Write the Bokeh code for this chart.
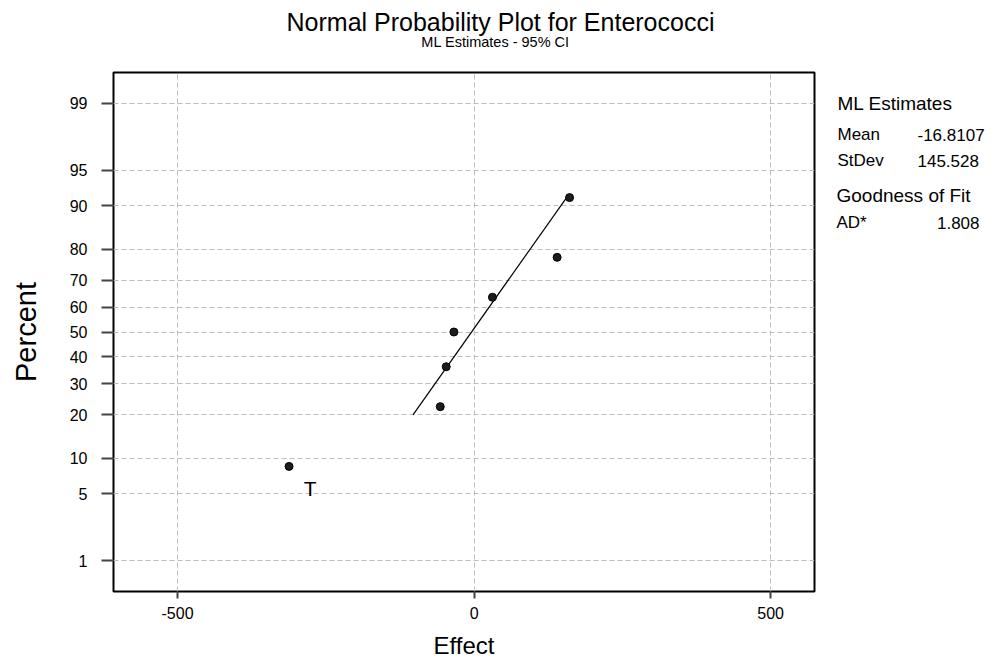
from statistics import NormalDist
from bokeh.plotting import figure
from bokeh.layouts import column, row
from bokeh.models import FixedTicker, Label, Range1d, ColumnDataSource
from bokeh.core.properties import value
from bokeh.embed import file_html
from bokeh.resources import INLINE

# ---- data ----
effects = [-312, -57, -47, -34, 31, 140, 161]
percents = [8.6, 22.4, 36.2, 50.0, 63.8, 77.6, 91.4]
point_labels = ["T", "", "", "", "", "", ""]
fit_effect = [-103, 156]
fit_percent = [20.0, 91.4]
y_tick_percents = [1, 5, 10, 20, 30, 40, 50, 60, 70, 80, 90, 95, 99]
x_ticks = [-500, 0, 500]
x_tick_labels = ["-500", "0", "500"]
title_text = "Normal Probability Plot for Enterococci"
subtitle_text = "ML Estimates - 95% CI"
stats_head = "ML Estimates"
stats_names = ["Mean", "StDev"]
stats_values = ["-16.8107", "145.528"]
gof_head = "Goodness of Fit"
gof_names = ["AD*"]
gof_values = ["1.808"]

FONT = "Liberation Sans"
nd = NormalDist()


def z(p):
    return nd.inv_cdf(p / 100.0)


W, H = 1001, 664
TOP_H = 70          # title strip height
MAIN_W = 816        # main plot width (frame 113..814)


def blank_fig(w, h, xr, yr):
    f = figure(width=w, height=h, output_backend="svg", toolbar_location=None,
               x_range=Range1d(*xr), y_range=Range1d(*yr),
               x_axis_type=None, y_axis_type=None,
               min_border_left=0, min_border_right=0, min_border_top=0,
               min_border_bottom=0)
    f.outline_line_color = None
    f.grid.visible = False
    f.background_fill_color = "white"
    f.border_fill_color = "white"
    return f


# ---- title strip (coordinates = canvas pixels) ----
tfig = blank_fig(W, TOP_H, (0, W), (TOP_H, 0))
tfig.text(x=[500], y=[21], text=[title_text], text_align="center",
          text_baseline="middle", text_font=value(FONT), text_font_size=value("25px"),
          text_color="black")
tfig.text(x=[495], y=[41], text=[subtitle_text], text_align="center",
          text_baseline="middle", text_font=value(FONT), text_font_size=value("14.5px"),
          text_color="black")

# ---- main plot ----
src = ColumnDataSource(dict(x=effects, y=[z(v) for v in percents]))

p = figure(width=MAIN_W, height=H - TOP_H, output_backend="svg", toolbar_location=None,
           x_range=Range1d(-608, 574), y_range=Range1d(-2.637, 2.637),
           min_border_left=113, min_border_right=2, min_border_top=2,
           min_border_bottom=73)
p.background_fill_color = "white"
p.border_fill_color = "white"
p.outline_line_color = "black"
p.outline_line_width = 2

y_ticks = [z(v) for v in y_tick_percents]
p.yaxis.ticker = FixedTicker(ticks=y_ticks)
p.yaxis.major_label_overrides = {t: str(v) for t, v in zip(y_ticks, y_tick_percents)}
p.xaxis.ticker = FixedTicker(ticks=x_ticks)
p.xaxis.major_label_overrides = {t: s for t, s in zip(x_ticks, x_tick_labels)}
p.ygrid.ticker = FixedTicker(ticks=y_ticks)
p.xgrid.ticker = FixedTicker(ticks=x_ticks)

for ax in (p.xaxis[0], p.yaxis[0]):
    ax.axis_line_color = None
    ax.minor_tick_line_color = None
    ax.major_tick_line_color = "#444444"
    ax.major_tick_line_width = 2
    ax.major_tick_in = 0
    ax.major_label_text_font = FONT
    ax.major_label_text_font_size = "16px"
    ax.major_label_text_color = "black"
    ax.axis_label_text_font = FONT
    ax.axis_label_text_font_style = "normal"
    ax.axis_label_text_color = "black"

p.yaxis.major_tick_out = 12
p.yaxis.major_label_standoff = 14
p.yaxis.axis_label = "Percent"
p.yaxis.axis_label_text_font_size = "29px"
p.yaxis.axis_label_standoff = 25
p.xaxis.major_tick_out = 7
p.xaxis.major_label_standoff = 8
p.xaxis.axis_label = "Effect"
p.xaxis.axis_label_text_font_size = "24px"
p.xaxis.axis_label_standoff = 10

for g in (p.xgrid[0], p.ygrid[0]):
    g.grid_line_color = "#bdbdbd"
    g.grid_line_dash = "5 3"
    g.grid_line_width = 1

p.line(fit_effect, [z(v) for v in fit_percent], line_color="black", line_width=1.2)
p.scatter("x", "y", source=src, size=8, marker="circle", fill_color="#1c1c1c",
          line_color="black", line_width=1)

for e, pc, lab in zip(effects, percents, point_labels):
    if lab:
        p.add_layout(Label(x=e, y=z(pc), text=lab, x_offset=21, y_offset=-22,
                           text_align="center", text_baseline="middle",
                           text_font=FONT, text_font_size="21px", text_color="black"))

# ---- side panel (coordinates = canvas pixels) ----
side = blank_fig(W - MAIN_W, H - TOP_H, (MAIN_W, W), (H, TOP_H))


def side_text(cx, cy, text, size, align="left"):
    side.text(x=[cx], y=[cy], text=[text], text_align=align, text_baseline="middle",
              text_font=value(FONT), text_font_size=value(size), text_color="black")


side_text(837, 106, stats_head, "19px")
for yy, nm, vv in zip([141, 171], stats_names, stats_values):
    side_text(837, yy, nm, "17px")
    side_text(917, yy, vv, "17px")
side_text(836, 211, gof_head, "19px")
for yy, nm, vv in zip([242], gof_names, gof_values):
    side_text(836, yy, nm, "17px")
    side_text(979, yy, vv, "17px", "right")

layout = column(tfig, row(p, side))
open("out.html", "w").write(file_html(layout, INLINE))
